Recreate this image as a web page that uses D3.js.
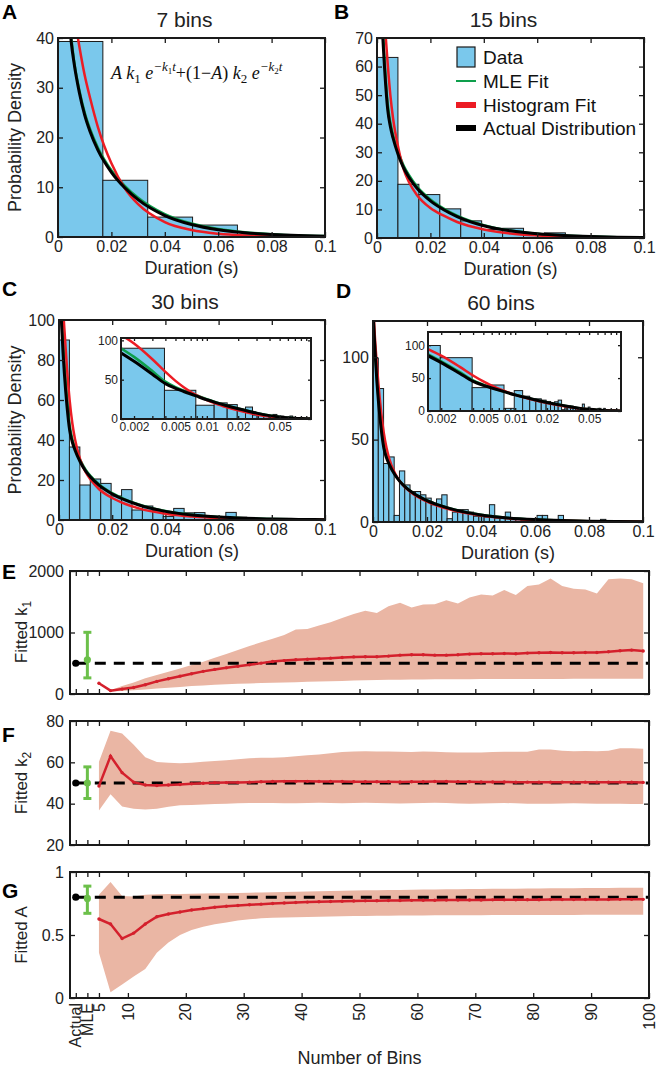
<!DOCTYPE html>
<html><head><meta charset="utf-8">
<script src="https://cdn.jsdelivr.net/npm/d3@7"></script>
<style>
body{margin:0;background:#fff;}
</style></head><body>
<svg id="c" width="658" height="1069"></svg>
<script>
// ---------------- DATA ----------------
const panelTitles = ["7 bins", "15 bins", "30 bins", "60 bins"];
const panelLetters = ["A", "B", "C", "D", "E", "F", "G"];
const durationTicks = [0, 0.02, 0.04, 0.06, 0.08, 0.1];
const durationTickLabels = ["0", "0.02", "0.04", "0.06", "0.08", "0.1"];
const binWidths = [0.0168, 0.00784, 0.00392, 0.00196];
const histA = [39.3, 11.4, 4.0, 2.4, 0.4, 0.2];
const histB = [63.2, 18.8, 15.2, 10.2, 6.0, 3.0, 3.4, 1.6, 1.8, 0.6, 0.4, 0.2, 0.1];
const histC = [90, 36.5, 17.5, 20.5, 18.3, 12, 15.2, 5, 7, 4.6, 1.8, 5.8, 3.6, 3.7, 1.6, 1.5, 3.8, 1.4, 0.9, 0.6, 0.5, 0.4, 0.3, 0.3, 0.2, 0.1];
const histD = [99.5, 81, 35.5, 39.5, 4, 31, 22.5, 18.5, 18.5, 16.5, 14.5, 10.5, 14, 16.5, 2, 6, 7.5, 7.5, 6, 3.5, 3.5, 3, 10.5, 2.5, 3, 6, 2, 2, 1, 1, 1, 4, 4, 1, 1, 4, 0.5, 0.5, 0.3, 0.3, 0.5, 0.3, 0.3, 1.6, 0.3, 0.2, 0.2, 0.1, 0.1, 0.1, 0.1];
const yMaxes = [40, 70, 100, 122];
const yTicksA = [0, 10, 20, 30, 40];
const yTicksB = [0, 10, 20, 30, 40, 50, 60, 70];
const yTicksC = [0, 20, 40, 60, 80, 100];
const yTicksD = [0, 50, 100];

// sampled fitted curves (duration in s -> probability density)
const curveT = [0, 0.0005, 0.001, 0.0015, 0.002, 0.003, 0.004, 0.005, 0.006, 0.008, 0.01, 0.012, 0.015, 0.02, 0.025, 0.03, 0.04, 0.05, 0.06, 0.07, 0.08, 0.09, 0.1];
const actualDist = [129, 112, 97, 84, 73.5, 57, 45, 39, 35, 29, 24.5, 21.2, 17.4, 13, 9.9, 7.5, 4.3, 2.5, 1.45, 0.85, 0.5, 0.28, 0.16];
const mleFitA = [135, 117, 101, 87, 76, 58.5, 46, 40, 35.5, 29.5, 25, 21.7, 17.9, 13.4, 10.3, 7.9, 4.6, 2.7, 1.6, 0.95, 0.56, 0.32, 0.19];
const histFitA = [72, 69.3, 66.7, 64.1, 61.7, 57.1, 52.9, 49, 45, 38.3, 32.5, 28, 22, 14.8, 9.8, 6.6, 3.0, 1.4, 0.65, 0.3, 0.14, 0.07, 0.03];
const mleFitB = [140, 120, 102, 88, 77, 59.5, 47, 40.5, 36, 30, 25.3, 22, 18, 13.5, 10.3, 7.8, 4.5, 2.6, 1.5, 0.9, 0.52, 0.3, 0.17];
const histFitB = [160, 135, 115, 98, 86, 74, 61, 50, 42, 31.5, 24, 19.5, 15, 10.5, 7.8, 5.6, 3, 1.6, 0.9, 0.5, 0.3, 0.17, 0.1];
const mleFitC = [135, 117, 101, 90, 79, 61, 47.5, 40.5, 36, 30, 25.2, 21.8, 17.9, 13.4, 10.2, 7.8, 4.5, 2.6, 1.5, 0.9, 0.52, 0.3, 0.17];
const histFitC = [150, 133, 120, 107, 96, 76, 60, 48.5, 40.5, 30, 24, 20, 15.5, 11, 8, 5.8, 3.1, 1.7, 0.9, 0.5, 0.28, 0.15, 0.09];
const mleFitD = [130, 113, 98, 86, 75.5, 59, 46.5, 40, 35.5, 29.2, 24.6, 21.3, 17.5, 13.1, 10, 7.6, 4.35, 2.5, 1.45, 0.85, 0.5, 0.28, 0.16];
const histFitD = [135, 118, 105, 94, 84, 67, 54, 45, 38.5, 30, 24.5, 20.8, 16.8, 12.3, 9.2, 6.9, 3.9, 2.2, 1.25, 0.7, 0.4, 0.23, 0.13];

const insetDomain = [0.0015, 0.1];
const insetTickValues = [0.002, 0.003, 0.004, 0.005, 0.006, 0.007, 0.008, 0.009, 0.01, 0.02, 0.03, 0.04, 0.05, 0.06, 0.07, 0.08, 0.09];
const insetTickLabels = {0.002: "0.002", 0.005: "0.005", 0.01: "0.01", 0.02: "0.02", 0.05: "0.05"};
const insetYMax = [103, 120];
const insetYTicks = [0, 50, 100];

const legendLabels = ["Data", "MLE Fit", "Histogram Fit", "Actual Distribution"];

// parameter panels
const binCounts = [5, 7, 9, 11, 13, 15, 17, 19, 21, 23, 25, 27, 29, 31, 33, 35, 37, 39, 41, 43, 45, 47, 49, 51, 53, 55, 57, 59, 61, 63, 65, 67, 69, 71, 73, 75, 77, 79, 81, 83, 85, 87, 89, 91, 93, 95, 97, 99];
const k1Fit = [174, 55, 80, 105, 150, 205, 248, 290, 330, 368, 400, 425, 450, 474, 502, 528, 543, 556, 565, 573, 583, 594, 603, 605, 605, 616, 632, 638, 638, 632, 632, 638, 649, 654, 654, 659, 654, 665, 670, 676, 670, 670, 676, 676, 687, 703, 714, 698];
const k1Lo = [null, 40, 50, 62, 75, 88, 100, 115, 130, 140, 150, 158, 165, 172, 178, 183, 188, 193, 198, 203, 208, 213, 218, 222, 226, 230, 232, 235, 237, 238, 239, 240, 241, 242, 242, 243, 243, 244, 244, 245, 245, 246, 246, 246, 247, 247, 248, 248];
const k1Hi = [null, 60, 130, 185, 255, 310, 360, 415, 470, 525, 590, 650, 715, 780, 840, 900, 960, 1050, 1055, 1115, 1165, 1235, 1300, 1352, 1319, 1428, 1482, 1406, 1455, 1461, 1526, 1472, 1570, 1619, 1602, 1690, 1608, 1755, 1782, 1880, 1755, 1711, 1700, 1635, 1864, 1880, 1864, 1800];
const k2Fit = [48.5, 63, 55, 50.4, 49, 48.8, 49, 49.3, 49.6, 49.9, 50.1, 50.2, 50.3, 50.4, 50.6, 50.7, 50.8, 50.8, 50.8, 50.7, 50.7, 50.7, 50.6, 50.6, 50.6, 50.6, 50.5, 50.6, 50.6, 50.7, 50.7, 50.6, 50.6, 50.5, 50.5, 50.5, 50.4, 50.4, 50.4, 50.4, 50.4, 50.4, 50.4, 50.4, 50.4, 50.4, 50.4, 50.3];
const k2Lo = [36.7, 44.6, 38.6, 37.5, 37.2, 37.5, 38.5, 39.2, 39.4, 39.6, 39.8, 40, 40.2, 40.3, 40.3, 40.3, 40.2, 40.2, 40.3, 40.4, 40.3, 40.2, 40.3, 40.4, 40.3, 40.2, 40.1, 40.2, 40.3, 40.4, 40.3, 40.1, 40, 40.1, 40.2, 40.3, 40.2, 40, 39.9, 40, 40.1, 40.2, 40.1, 40, 39.9, 39.9, 39.8, 39.8];
const k2Hi = [60.3, 75.3, 74, 68.5, 62.5, 60.2, 59.8, 59.6, 59.8, 60.3, 60.6, 61, 61.5, 62, 62.2, 62.2, 62.4, 63, 63.4, 63.8, 64.4, 65, 65.2, 65.4, 65.2, 65.3, 65.1, 65, 65.2, 65.1, 64.9, 64.8, 64.7, 64.8, 65, 65.1, 65.1, 65.1, 66.2, 66.2, 65.6, 65.4, 65.5, 65.4, 65.6, 66.8, 66.8, 66.6];
const aFit = [0.627, 0.587, 0.472, 0.515, 0.587, 0.645, 0.667, 0.683, 0.699, 0.709, 0.72, 0.728, 0.734, 0.74, 0.745, 0.75, 0.754, 0.758, 0.761, 0.764, 0.766, 0.768, 0.77, 0.771, 0.772, 0.773, 0.774, 0.775, 0.776, 0.776, 0.777, 0.777, 0.778, 0.778, 0.779, 0.779, 0.78, 0.78, 0.78, 0.781, 0.781, 0.781, 0.782, 0.782, 0.782, 0.783, 0.783, 0.783];
const aLo = [0.36, 0.045, 0.107, 0.17, 0.23, 0.36, 0.44, 0.5, 0.54, 0.565, 0.585, 0.6, 0.615, 0.625, 0.632, 0.636, 0.638, 0.64, 0.642, 0.644, 0.646, 0.648, 0.65, 0.651, 0.652, 0.653, 0.654, 0.655, 0.655, 0.656, 0.656, 0.657, 0.657, 0.657, 0.658, 0.658, 0.658, 0.658, 0.659, 0.659, 0.659, 0.659, 0.66, 0.66, 0.66, 0.66, 0.66, 0.66];
const aHi = [0.82, 0.92, 0.81, 0.805, 0.82, 0.823, 0.825, 0.826, 0.827, 0.829, 0.831, 0.832, 0.834, 0.836, 0.838, 0.84, 0.842, 0.844, 0.846, 0.848, 0.85, 0.852, 0.853, 0.855, 0.856, 0.857, 0.858, 0.86, 0.861, 0.862, 0.863, 0.864, 0.865, 0.866, 0.867, 0.868, 0.868, 0.869, 0.87, 0.871, 0.872, 0.872, 0.873, 0.874, 0.874, 0.875, 0.875, 0.875];
const actualParams = [500, 50, 0.8];
const mleMean = [556, 50, 0.79];
const mleLow = [262, 42.5, 0.672];
const mleHigh = [1003, 57.8, 0.888];
const actualPos = 1, mlePos = 3;
const binAxisTicks = [1, 3, 5, 10, 20, 30, 40, 50, 60, 70, 80, 90, 100];
const binAxisLabels = ["Actual", "MLE", "5", "10", "20", "30", "40", "50", "60", "70", "80", "90", "100"];
const paramYDomains = [[0, 2000], [20, 80], [0, 1]];
const paramYTicks = [[0, 1000, 2000], [20, 40, 60, 80], [0, 0.5, 1]];
const paramYTickLabels = [["0", "1000", "2000"], ["20", "40", "60", "80"], ["0", "0.5", "1"]];

// ---------------- STYLE ----------------
const FONT = "'Liberation Sans', Arial, Helvetica, sans-serif";
const BLUE = "#7AC8EC", RED = "#EC1C24", GREEN = "#0E9F4C", BLACK = "#000";
const PRED = "#D4202C", BAND = "#EAB6A4", EGREEN = "#6CC04A", AXC = "#1a1a1a";
const TXT = "#222";

const svg = d3.select("#c").attr("font-family", FONT);
svg.append("rect").attr("width", 658).attr("height", 1069).attr("fill", "#fff");
const defs = svg.append("defs");
let clipN = 0;
function clipFor(b) {
  const id = "clip" + (clipN++);
  defs.append("clipPath").attr("id", id).append("rect")
    .attr("x", b.x0).attr("y", b.y0).attr("width", b.x1 - b.x0).attr("height", b.y1 - b.y0);
  return "url(#" + id + ")";
}
function styleAxis(a, fs) {
  a.select(".domain").remove();
  a.attr("font-family", FONT).attr("font-size", fs);
  a.selectAll("line").attr("stroke", AXC).attr("stroke-width", 1.3);
  a.selectAll("text").attr("fill", TXT);
}
function boxAxes(b, x, y, xt, xfmt, yt, yfmt, fs, tl, pad) {
  const g = svg.append("g");
  styleAxis(g.append("g").attr("transform", `translate(0,${b.y1})`)
    .call(d3.axisBottom(x).tickValues(xt).tickFormat(xfmt).tickSize(-tl).tickPadding(pad)), fs);
  styleAxis(g.append("g").attr("transform", `translate(0,${b.y0})`)
    .call(d3.axisTop(x).tickValues(xt).tickFormat("").tickSize(-tl)), fs);
  styleAxis(g.append("g").attr("transform", `translate(${b.x0},0)`)
    .call(d3.axisLeft(y).tickValues(yt).tickFormat(yfmt).tickSize(-tl).tickPadding(pad)), fs);
  styleAxis(g.append("g").attr("transform", `translate(${b.x1},0)`)
    .call(d3.axisRight(y).tickValues(yt).tickFormat("").tickSize(-tl)), fs);
  return g;
}
function frame(b, sw) {
  svg.append("rect").attr("x", b.x0).attr("y", b.y0).attr("width", b.x1 - b.x0).attr("height", b.y1 - b.y0)
    .attr("fill", "none").attr("stroke", AXC).attr("stroke-width", sw);
}

// ---------------- HISTOGRAM PANELS ----------------
const boxes = [
  {x0: 58, x1: 325, y0: 38, y1: 237},
  {x0: 377, x1: 644, y0: 38, y1: 238},
  {x0: 59, x1: 325, y0: 320, y1: 520},
  {x0: 373, x1: 643, y0: 321, y1: 522}
];
const insetBoxes = [null, null, {x0: 121, x1: 311, y0: 338, y1: 419}, {x0: 428, x1: 621, y0: 332, y1: 411}];
const hists = [histA, histB, histC, histD];
const mleFits = [mleFitA, mleFitB, mleFitC, mleFitD];
const histFits = [histFitA, histFitB, histFitC, histFitD];
const yTicksList = [yTicksA, yTicksB, yTicksC, yTicksD];
const letterPos = [[2, 19], [334, 19], [2, 296], [336, 298]];

function drawCurves(g, x, y, ts, mle, hfit) {
  const pts = (vals) => ts.map((t, i) => [t, vals[i]]).filter(d => d[0] >= x.domain()[0]);
  const line = d3.line().x(d => x(d[0])).y(d => y(d[1])).curve(d3.curveMonotoneX);
  g.append("path").attr("d", line(pts(mle))).attr("fill", "none").attr("stroke", GREEN).attr("stroke-width", 2.5);
  g.append("path").attr("d", line(pts(hfit))).attr("fill", "none").attr("stroke", RED).attr("stroke-width", 2.5);
  g.append("path").attr("d", line(pts(actualDist))).attr("fill", "none").attr("stroke", BLACK).attr("stroke-width", 3);
}
function drawBars(g, x, y, heights, bw) {
  const dmin = x.domain()[0];
  const bars = heights.map((h, i) => ({a: Math.max(i * bw, dmin), b: (i + 1) * bw, h: h})).filter(d => d.b > dmin);
  g.selectAll("rect.bar").data(bars).enter().append("rect")
    .attr("x", d => x(d.a)).attr("width", d => x(d.b) - x(d.a))
    .attr("y", d => y(d.h)).attr("height", d => y(0) - y(d.h))
    .attr("fill", BLUE).attr("stroke", AXC).attr("stroke-width", 1);
}

for (let p = 0; p < 4; p++) {
  const b = boxes[p];
  const x = d3.scaleLinear().domain([0, 0.1]).range([b.x0, b.x1]);
  const y = d3.scaleLinear().domain([0, yMaxes[p]]).range([b.y1, b.y0]);
  const g = svg.append("g").attr("clip-path", clipFor(b));
  drawBars(g, x, y, hists[p], binWidths[p]);
  drawCurves(g, x, y, curveT, mleFits[p], histFits[p]);
  boxAxes(b, x, y, durationTicks, (d, i) => durationTickLabels[i], yTicksList[p], d => d, 16, 5, 4);
  frame(b, 2);
  svg.append("text").attr("x", (b.x0 + b.x1) / 2 - 7).attr("y", b.y0 - 11).attr("text-anchor", "middle")
    .attr("font-size", 21).attr("fill", TXT).text(panelTitles[p]);
  svg.append("text").attr("x", (b.x0 + b.x1) / 2).attr("y", b.y1 + 37).attr("text-anchor", "middle")
    .attr("font-size", 18).attr("fill", TXT).text("Duration (s)");
  svg.append("text").attr("x", letterPos[p][0]).attr("y", letterPos[p][1]).attr("font-size", 21)
    .attr("font-weight", "bold").attr("fill", "#000").text(panelLetters[p]);
  if (p === 0 || p === 2) {
    svg.append("text").attr("transform", `translate(21,${(b.y0 + b.y1) / 2}) rotate(-90)`)
      .attr("text-anchor", "middle").attr("font-size", 18).attr("fill", TXT).text("Probability Density");
  }
  const ib = insetBoxes[p];
  if (ib) {
    svg.append("rect").attr("x", ib.x0).attr("y", ib.y0).attr("width", ib.x1 - ib.x0).attr("height", ib.y1 - ib.y0).attr("fill", "#fff");
    const xi = d3.scaleLog().domain(insetDomain).range([ib.x0, ib.x1]);
    const yi = d3.scaleLinear().domain([0, insetYMax[p - 2]]).range([ib.y1, ib.y0]);
    const gi = svg.append("g").attr("clip-path", clipFor(ib));
    drawBars(gi, xi, yi, hists[p], binWidths[p]);
    drawCurves(gi, xi, yi, curveT, mleFits[p], histFits[p]);
    boxAxes(ib, xi, yi, insetTickValues, d => insetTickLabels[d] || "", insetYTicks, d => d, 12, 3, 3);
    frame(ib, 2);
  }
}

// legend (panel B)
{
  const lx = 456, ly = [57, 81, 105, 128];
  const lg = svg.append("g");
  lg.append("rect").attr("x", lx + 1).attr("y", ly[0] - 10).attr("width", 18).attr("height", 20)
    .attr("fill", BLUE).attr("stroke", AXC).attr("stroke-width", 1.2);
  lg.append("line").attr("x1", lx).attr("x2", lx + 20).attr("y1", ly[1]).attr("y2", ly[1]).attr("stroke", GREEN).attr("stroke-width", 2);
  lg.append("line").attr("x1", lx).attr("x2", lx + 20).attr("y1", ly[2]).attr("y2", ly[2]).attr("stroke", RED).attr("stroke-width", 6);
  lg.append("line").attr("x1", lx).attr("x2", lx + 20).attr("y1", ly[3]).attr("y2", ly[3]).attr("stroke", BLACK).attr("stroke-width", 6);
  legendLabels.forEach((t, i) => lg.append("text").attr("x", lx + 27).attr("y", ly[i]).attr("dy", "0.36em")
    .attr("font-size", 19).attr("fill", "#111").text(t));
}

// formula (panel A)
{
  const f = svg.append("text").attr("x", 111).attr("y", 79).attr("font-family", "'Liberation Serif', 'Times New Roman', serif")
    .attr("font-size", 18).attr("fill", "#111");
  const parts = [
    ["A k", 18, "italic", 0], ["1", 13, "normal", 4], [" e", 18, "italic", -4], ["\u2212k", 13, "italic", -8],
    ["1", 9, "normal", 3], ["t", 13, "italic", -3], ["+(1\u2212", 18, "normal", 8], ["A", 18, "italic", 0],
    [") ", 18, "normal", 0], ["k", 18, "italic", 0], ["2", 13, "normal", 4], [" e", 18, "italic", -4],
    ["\u2212k", 13, "italic", -8], ["2", 9, "normal", 3], ["t", 13, "italic", -3]
  ];
  parts.forEach(q => f.append("tspan").attr("font-size", q[1]).attr("font-style", q[2]).attr("dy", q[3]).text(q[0]));
}

// ---------------- PARAMETER PANELS ----------------
const pBoxes = [
  {x0: 70, x1: 649, y0: 571, y1: 694},
  {x0: 70, x1: 649, y0: 721, y1: 845},
  {x0: 70, x1: 649, y0: 872, y1: 998}
];
const fits = [k1Fit, k2Fit, aFit], los = [k1Lo, k2Lo, aLo], his = [k1Hi, k2Hi, aHi];
const pLetterY = [579, 742, 898];
const pLabelY = [632, 783, 935];
const pLabels = [["Fitted k", "1"], ["Fitted k", "2"], ["Fitted A", ""]];

for (let p = 0; p < 3; p++) {
  const b = pBoxes[p];
  const x = d3.scaleLinear().domain([0, 100]).range([b.x0, b.x1]);
  const y = d3.scaleLinear().domain(paramYDomains[p]).range([b.y1, b.y0]);
  const g = svg.append("g").attr("clip-path", clipFor(b));
  const rows = binCounts.map((n, i) => ({n: n, v: fits[p][i], lo: los[p][i], hi: his[p][i]}));
  g.append("path").datum(rows)
    .attr("d", d3.area().defined(d => d.lo !== null).x(d => x(d.n)).y0(d => y(d.lo)).y1(d => y(d.hi)))
    .attr("fill", BAND).attr("stroke", "none");
  g.append("line").attr("x1", x(actualPos)).attr("x2", x(100)).attr("y1", y(actualParams[p])).attr("y2", y(actualParams[p]))
    .attr("stroke", "#000").attr("stroke-width", 3).attr("stroke-dasharray", "11,8");
  g.append("path").datum(rows).attr("d", d3.line().x(d => x(d.n)).y(d => y(d.v)))
    .attr("fill", "none").attr("stroke", PRED).attr("stroke-width", 2.5);
  g.selectAll("circle.m").data(rows).enter().append("circle")
    .attr("cx", d => x(d.n)).attr("cy", d => y(d.v)).attr("r", 1.7).attr("fill", PRED);
  g.append("circle").attr("cx", x(actualPos)).attr("cy", y(actualParams[p])).attr("r", 3.6).attr("fill", "#000");
  const ex = x(mlePos);
  g.append("line").attr("x1", ex).attr("x2", ex).attr("y1", y(mleLow[p])).attr("y2", y(mleHigh[p]))
    .attr("stroke", EGREEN).attr("stroke-width", 3);
  [mleLow[p], mleHigh[p]].forEach(v => g.append("line").attr("x1", ex - 4).attr("x2", ex + 4).attr("y1", y(v)).attr("y2", y(v))
    .attr("stroke", EGREEN).attr("stroke-width", 3));
  g.append("circle").attr("cx", ex).attr("cy", y(mleMean[p])).attr("r", 3.6).attr("fill", EGREEN);

  boxAxes(b, x, y, binAxisTicks, "", paramYTicks[p], (d, i) => paramYTickLabels[p][i], 16, 5, 6);
  frame(b, 2);
  svg.append("text").attr("x", 2).attr("y", pLetterY[p]).attr("font-size", 21).attr("font-weight", "bold")
    .attr("fill", "#000").text(panelLetters[4 + p]);
  const yl = svg.append("text").attr("transform", `translate(27,${pLabelY[p]}) rotate(-90)`)
    .attr("text-anchor", "middle").attr("font-size", 17).attr("fill", TXT);
  yl.append("tspan").text(pLabels[p][0]);
  if (pLabels[p][1]) yl.append("tspan").attr("font-size", 12).attr("dy", 4).text(pLabels[p][1]);

  if (p === 2) {
    binAxisTicks.forEach((v, i) => svg.append("text")
      .attr("transform", `translate(${x(v)},${b.y1 + 5}) rotate(-90)`)
      .attr("text-anchor", "end").attr("dy", "0.35em").attr("font-size", 16).attr("fill", TXT)
      .text(binAxisLabels[i]));
    svg.append("text").attr("x", (b.x0 + b.x1) / 2).attr("y", 1064).attr("text-anchor", "middle")
      .attr("font-size", 18).attr("fill", TXT).text("Number of Bins");
  }
}
</script></body></html>
